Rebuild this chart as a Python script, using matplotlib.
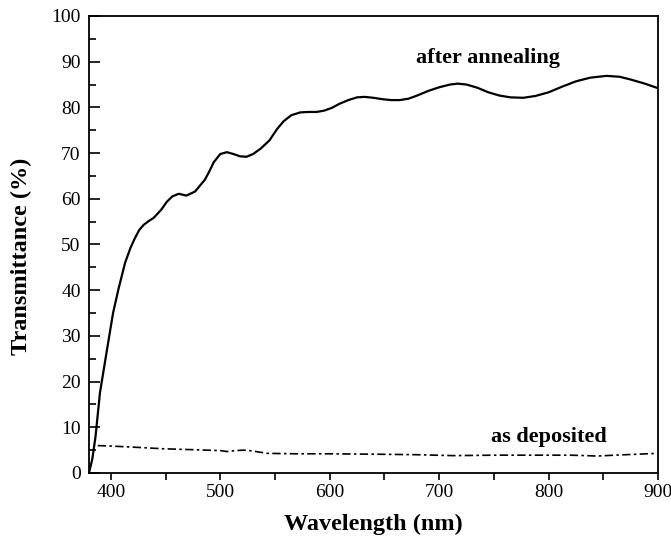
import numpy as np
import matplotlib
matplotlib.use("Agg")
import matplotlib.pyplot as plt
from matplotlib.ticker import MultipleLocator

# values
wl_annealed = [380, 383, 386, 390, 396, 402, 407, 413, 418, 422, 426, 430, 435, 439,
               446, 451, 456, 462, 469, 477, 486, 490, 494, 500, 506, 512, 518,
               524, 530, 537, 545, 552, 558, 565, 573, 580, 588, 595, 602, 609, 617,
               625, 632, 640, 648, 656, 664, 672, 680, 690, 700, 710, 717, 725, 735,
               745, 755, 765, 777, 788, 800, 812, 825, 838, 853, 865, 875, 888, 900]
t_annealed = [0, 3, 8, 17.5, 26.3, 35, 40.3, 46, 49.3, 51.4, 53.2, 54.3, 55.2, 55.8,
              57.6, 59.3, 60.5, 61.1, 60.7, 61.6, 64.2, 66, 68, 69.8, 70.2, 69.8, 69.3,
              69.2, 69.8, 71, 72.8, 75.3, 77, 78.3, 78.9, 79.0, 79.0, 79.3, 79.9, 80.8, 81.6,
              82.2, 82.3, 82.1, 81.8, 81.6, 81.6, 81.9, 82.6, 83.6, 84.4, 85.0, 85.2, 85.0, 84.3,
              83.3, 82.6, 82.2, 82.1, 82.5, 83.3, 84.5, 85.7, 86.5, 86.9, 86.7, 86.1, 85.2, 84.2]

wl_deposited = [388, 400, 425, 448, 475, 500, 506, 514, 521, 527, 535, 543, 570, 600,
                646, 680, 713, 750, 790, 820, 835, 844, 860, 880, 899]
t_deposited = [6.0, 5.9, 5.6, 5.3, 5.1, 4.9, 4.7, 4.9, 5.0, 4.9, 4.6, 4.3, 4.2, 4.2,
               4.1, 4.0, 3.8, 3.9, 3.9, 3.9, 3.8, 3.7, 3.9, 4.1, 4.3]

plt.rcParams['font.family'] = ['Liberation Serif', 'DejaVu Serif']

fig = plt.figure(figsize=(6.71, 5.46), dpi=100)
ax = fig.add_axes([0.1326, 0.1337, 0.848, 0.837])

ax.plot(wl_annealed, t_annealed, color='black', lw=1.6)
ax.plot(wl_deposited, t_deposited, color='black', lw=1.2, linestyle=(0, (5, 2, 1.5, 2)))

ax.text(745, 90.8, 'after annealing', ha='center', va='center', fontsize=16, fontweight='bold')
ax.text(800, 7.8, 'as deposited', ha='center', va='center', fontsize=16, fontweight='bold')

ax.set_xlim(380, 900)
ax.set_ylim(0, 100)
ax.xaxis.set_major_locator(MultipleLocator(100))
ax.xaxis.set_minor_locator(MultipleLocator(50))
ax.yaxis.set_major_locator(MultipleLocator(10))
ax.yaxis.set_minor_locator(MultipleLocator(5))

ax.tick_params(axis='x', which='major', direction='out', length=5, width=1.2, labelsize=14, pad=3)
ax.tick_params(axis='x', which='minor', direction='out', length=5, width=1.2)
ax.tick_params(axis='y', which='major', direction='in', length=8, width=1.2, labelsize=14, pad=6)
ax.tick_params(axis='y', which='minor', direction='in', length=5, width=1.2)

for sp in ax.spines.values():
    sp.set_linewidth(1.3)

ax.set_xlabel('Wavelength (nm)', fontsize=17.5, fontweight='bold', labelpad=9)
ax.set_ylabel('Transmittance (%)', fontsize=17.5, fontweight='bold')
ax.yaxis.set_label_coords(-0.1, 0.475)

fig.savefig('out.png', dpi=100)
